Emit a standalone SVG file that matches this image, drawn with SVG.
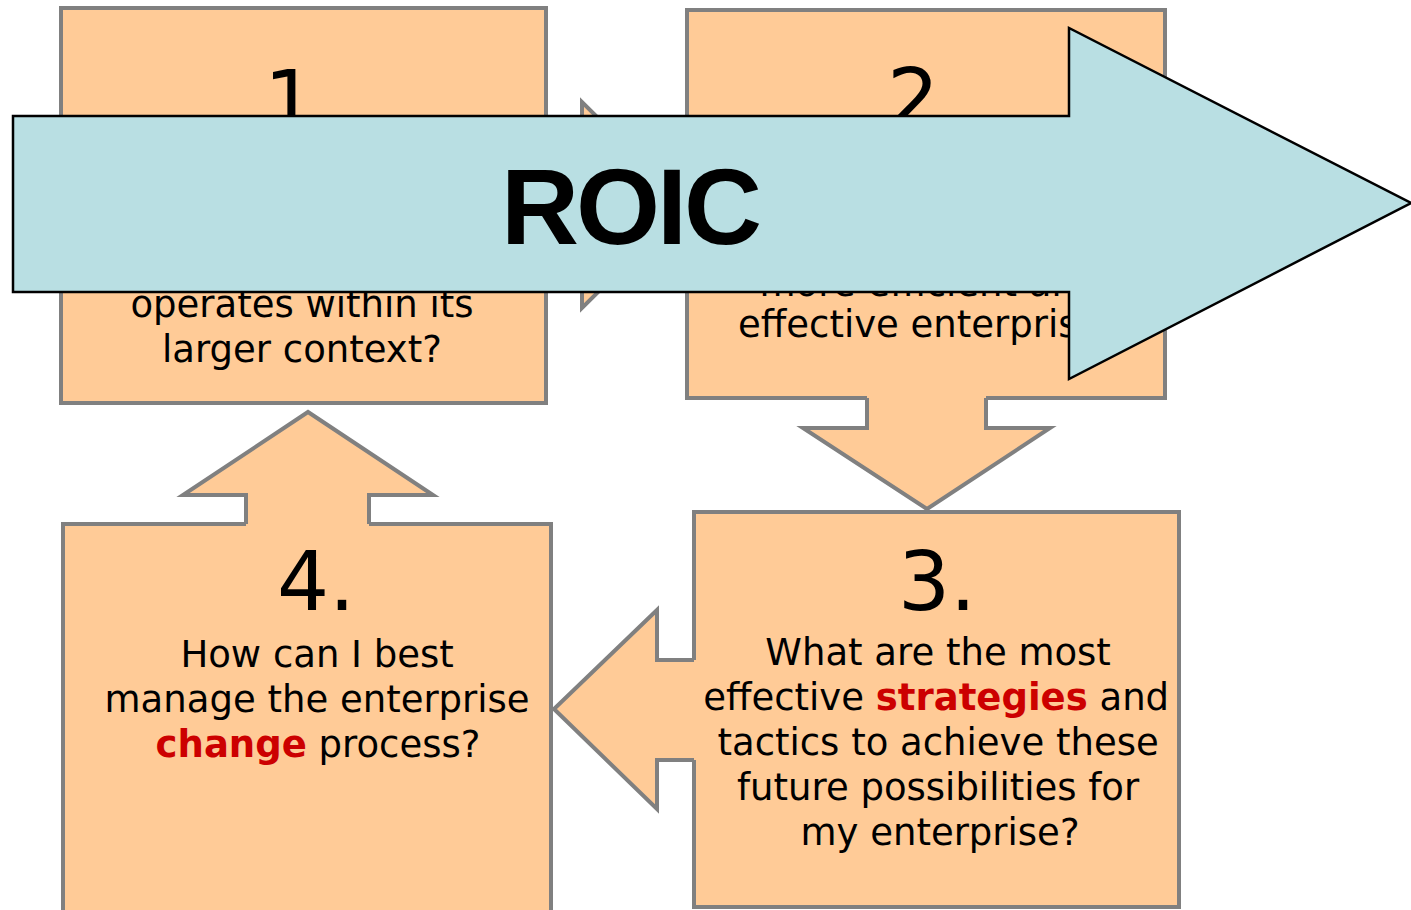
<svg xmlns="http://www.w3.org/2000/svg" width="1411" height="910" viewBox="0 0 1411 910">
  <defs>
    <style>
      .box { fill: #FFCB97; stroke: #808080; stroke-width: 4; }
      .afill { fill: #FFCB97; stroke: none; }
      .aline { fill: none; stroke: #808080; stroke-width: 4; stroke-linejoin: miter; }
      .num { font-family: "DejaVu Sans", Verdana, sans-serif; font-size: 82px; fill: #000; text-anchor: middle; }
      .q { font-family: "DejaVu Sans", Verdana, sans-serif; font-size: 37px; fill: #000; text-anchor: middle; }
      .hl { fill: #CC0000; font-weight: bold; }
      .roic { fill: #B9DFE3; stroke: #000; stroke-width: 2.5; stroke-linejoin: miter; }
      .roic-label { font-family: "Liberation Sans", Arial, sans-serif; font-size: 108px; font-weight: bold; fill: #000; text-anchor: middle; letter-spacing: -3px; }
    </style>
  </defs>

  <g id="box1">
    <rect class="box" x="61" y="8" width="485" height="395"/>
    <text class="num" x="303" y="129">1.</text>
    <text class="q"><tspan x="302" y="317">operates within its</tspan><tspan x="302" y="362">larger context?</tspan></text>
  </g>

  <g id="box2">
    <rect class="box" x="687" y="10" width="478" height="388"/>
    <text class="num" x="926" y="127">2.</text>
    <text class="q"><tspan x="929" y="296">more efficient and</tspan><tspan x="929" y="337">effective enterprise?</tspan></text>
  </g>

  <g id="box3">
    <rect class="box" x="694" y="512" width="485" height="395"/>
    <text class="num" x="937" y="610">3.</text>
    <text class="q">
      <tspan x="944" y="665">What are the most</tspan>
      <tspan x="942" y="710">effective <tspan class="hl">strategies</tspan> and</tspan>
      <tspan x="944" y="755">tactics to achieve these</tspan>
      <tspan x="944" y="800">future possibilities for</tspan>
      <tspan x="940" y="845">my enterprise?</tspan>
    </text>
  </g>

  <g id="box4">
    <rect class="box" x="63" y="524" width="488" height="400"/>
    <text class="num" x="316" y="610">4.</text>
    <text class="q">
      <tspan x="323" y="667">How can I best</tspan>
      <tspan x="323" y="712">manage the enterprise</tspan>
      <tspan x="318" y="757"><tspan class="hl">change</tspan> process?</tspan>
    </text>
  </g>

  <g id="connectors">
    <!-- 1 to 2 -->
    <g id="arrow-1-2">
      <polygon class="afill" points="543,155 582,155 582,102 686,205 582,308 582,255 543,255"/>
      <polyline class="aline" points="546,155 582,155 582,102 686,205 582,308 582,255 546,255"/>
    </g>
    <!-- 2 to 3 -->
    <g id="arrow-2-3">
      <polygon class="afill" points="867,395 867,428 803,428 927,509 1050,428 986,428 986,395"/>
      <polyline class="aline" points="867,398 867,428 803,428 927,509 1050,428 986,428 986,398"/>
    </g>
    <!-- 3 to 4 -->
    <g id="arrow-3-4">
      <polygon class="afill" points="697,660 657,660 657,610 554,709 657,809 657,760 697,760"/>
      <polyline class="aline" points="694,660 657,660 657,610 554,709 657,809 657,760 694,760"/>
    </g>
    <!-- 4 to 1 -->
    <g id="arrow-4-1">
      <polygon class="afill" points="246,527 246,495 183,495 308,412 433,495 369,495 369,527"/>
      <polyline class="aline" points="246,524 246,495 183,495 308,412 433,495 369,495 369,524"/>
    </g>
  </g>

  <g id="roic">
    <polygon class="roic" points="13,116 1069,116 1069,28 1411,203 1069,379 1069,292 13,292"/>
    <text class="roic-label" x="630" y="244">ROIC</text>
  </g>
</svg>
